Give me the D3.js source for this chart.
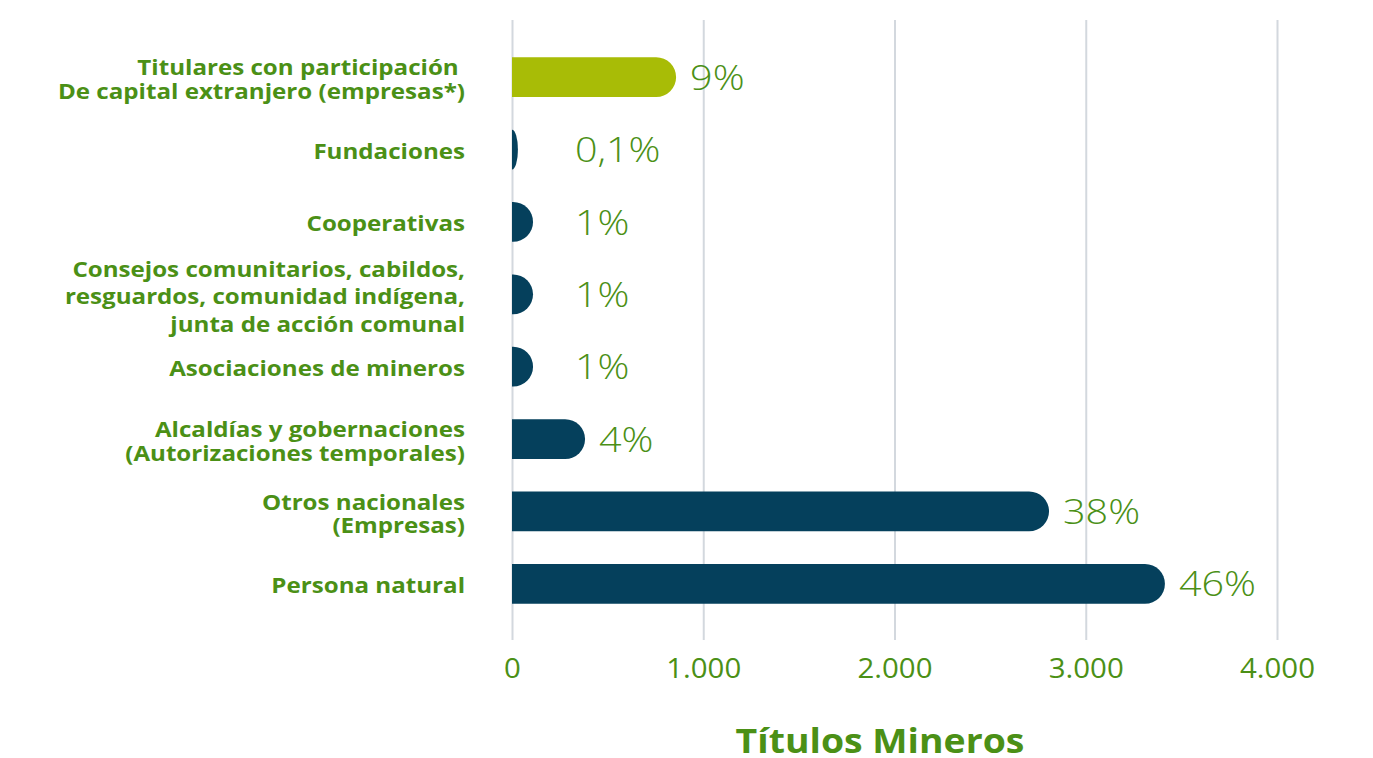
<!DOCTYPE html>
<html>
<head>
<meta charset="utf-8">
<script src="https://cdn.jsdelivr.net/npm/d3@7"></script>
<style>
  html, body { margin: 0; padding: 0; background: #ffffff; }
  svg { display: block; }
  text { white-space: pre; }
</style>
</head>
<body>
<svg id="chart" width="1373" height="758"></svg>
<script>
// ---- data ----
const categories = [
  "Titulares con participación \nDe capital extranjero (empresas*)",
  "Fundaciones",
  "Cooperativas",
  "Consejos comunitarios, cabildos,\nresguardos, comunidad indígena,\njunta de acción comunal",
  "Asociaciones de mineros",
  "Alcaldías y gobernaciones\n(Autorizaciones temporales)",
  "Otros nacionales\n(Empresas)",
  "Persona natural"
];
const values = [858, 31, 110, 110, 110, 382, 2808, 3414];
const percentLabels = ["9%", "0,1%", "1%", "1%", "1%", "4%", "38%", "46%"];
const tickValues = [0, 1000, 2000, 3000, 4000];
const tickLabels = ["0", "1.000", "2.000", "3.000", "4.000"];
const axisTitle = "Títulos Mineros";

// ---- styles ----
const green = "#4b9016";
const navy = "#05405c";
const lime = "#a8bc06";
const font = "'Open Sans', sans-serif";

const svg = d3.select("#chart");

const x = d3.scaleLinear().domain([0, 4000]).range([512, 1277]);
const y = d3.scaleBand().domain(categories).range([41, 620])
  .paddingInner(0.45).paddingOuter(0.225);

// gridlines + tick labels via axis
const gAxis = svg.append("g").attr("transform", "translate(0,640)")
  .call(d3.axisBottom(x).tickValues(tickValues)
    .tickSize(-620).tickPadding(19)
    .tickFormat((d, i) => tickLabels[i]));
gAxis.select(".domain").remove();
gAxis.selectAll(".tick line").attr("stroke", "#d3d8de").attr("stroke-width", 2);
gAxis.selectAll(".tick text")
  .attr("fill", green)
  .attr("font-family", font)
  .attr("font-weight", 400)
  .attr("font-size", 27)
  .attr("dy", "0.71em")
  .attr("transform", function () {
    const yy = +d3.select(this).attr("y");
    return `translate(0,${yy}) scale(1.09,1) translate(0,${-yy})`;
  });

// bars with rounded right end
function barPath(x0, x1, y0, h) {
  const ry = h / 2;
  const rx = Math.min(x1 - x0, ry);
  const y1 = y0 + h;
  return `M${x0},${y0} H${x1 - rx} A${rx},${ry} 0 0 1 ${x1},${y0 + ry} A${rx},${ry} 0 0 1 ${x1 - rx},${y1} H${x0} Z`;
}

svg.append("g").selectAll("path")
  .data(categories)
  .join("path")
  .attr("d", (c, i) => barPath(x(0), x(values[i]), y(c), y.bandwidth()))
  .attr("fill", (c, i) => i === 0 ? lime : navy);

// percentage labels
svg.append("g").selectAll("text")
  .data(categories)
  .join("text")
  .attr("transform", (c, i) =>
    `translate(${Math.max(x(values[i]) + 14, 575)},${y(c) + y.bandwidth() / 2}) scale(1.13,1)`)
  .attr("dy", "0.36em")
  .attr("fill", green)
  .attr("font-family", font)
  .attr("font-weight", 300)
  .attr("font-size", 35)
  .text((c, i) => percentLabels[i]);

// category labels
const catG = svg.append("g").attr("transform", "translate(465,0) scale(1.15,1)");
categories.forEach(c => {
  const lines = c.split("\n");
  const lh = lines.length === 3 ? 27.5 : 23.5;
  const cy = y(c) + y.bandwidth() / 2 + (lines.length === 1 ? 2 : 2.5);
  const t = catG.append("text")
    .attr("text-anchor", "end")
    .attr("fill", green)
    .attr("font-family", font)
    .attr("font-weight", 700)
    .attr("font-size", 21);
  lines.forEach((ln, k) => {
    t.append("tspan")
      .attr("x", 0)
      .attr("y", cy + (k - (lines.length - 1) / 2) * lh)
      .attr("dy", "0.36em")
      .text(ln);
  });
});

// axis title
svg.append("text")
  .attr("transform", "translate(880,741) scale(1.1,1)")
  .attr("dy", "0.36em")
  .attr("text-anchor", "middle")
  .attr("fill", green)
  .attr("font-family", font)
  .attr("font-weight", 700)
  .attr("font-size", 34)
  .text(axisTitle);
</script>
</body>
</html>
